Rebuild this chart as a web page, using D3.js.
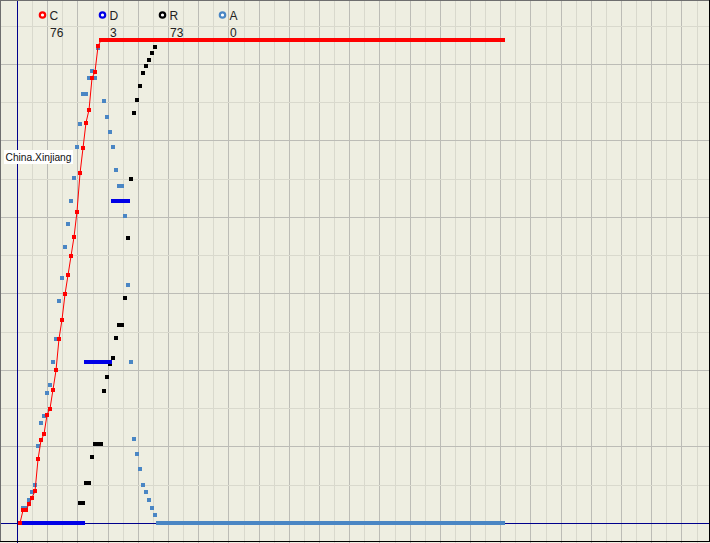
<!DOCTYPE html>
<html>
<head>
<meta charset="utf-8">
<script src="https://cdn.jsdelivr.net/npm/d3@7"></script>
<style>
  html, body { margin: 0; padding: 0; background: #fff; }
  svg { display: block; }
  text { font-family: "Liberation Sans", Arial, sans-serif; }
</style>
</head>
<body>
<div id="chart"></div>
<script>
// ---- data (one value per day, day 0 .. day 161) ----
const regionName = "China.Xinjiang";
const seriesNames = ["C", "D", "R", "A"];
const seriesColors = ["#ff0000", "#0000e6", "#000000", "#4a86c4"];

const confirmed = [
  0,2,2,3,4,5,10,13,14,17,18,21,24,29,32,36,39,42,45,49,
  55,59,63,65,70,71,75,76,76,76,76,76,76,76,76,76,76,76,76,76,
  76,76,76,76,76,76,76,76,76,76,76,76,76,76,76,76,76,76,76,76,
  76,76,76,76,76,76,76,76,76,76,76,76,76,76,76,76,76,76,76,76,
  76,76,76,76,76,76,76,76,76,76,76,76,76,76,76,76,76,76,76,76,
  76,76,76,76,76,76,76,76,76,76,76,76,76,76,76,76,76,76,76,76,
  76,76,76,76,76,76,76,76,76,76,76,76,76,76,76,76,76,76,76,76,
  76,76,76,76,76,76,76,76,76,76,76,76,76,76,76,76,76,76,76,76,
  76,76
];
const deaths = [
  0,0,0,0,0,0,0,0,0,0,0,0,0,0,0,0,0,0,0,0,
  0,0,1,1,1,1,1,1,1,1,1,2,2,2,2,2,2,3,3,3,
  3,3,3,3,3,3,3,3,3,3,3,3,3,3,3,3,3,3,3,3,
  3,3,3,3,3,3,3,3,3,3,3,3,3,3,3,3,3,3,3,3,
  3,3,3,3,3,3,3,3,3,3,3,3,3,3,3,3,3,3,3,3,
  3,3,3,3,3,3,3,3,3,3,3,3,3,3,3,3,3,3,3,3,
  3,3,3,3,3,3,3,3,3,3,3,3,3,3,3,3,3,3,3,3,
  3,3,3,3,3,3,3,3,3,3,3,3,3,3,3,3,3,3,3,3,
  3,3
];
const recovered = [
  0,0,0,0,0,0,0,0,0,0,0,0,0,0,0,0,0,0,0,0,
  3,3,6,6,10,12,12,12,20,22,24,25,28,30,30,34,43,52,62,64,
  66,68,69,70,71,72,73,73,73,73,73,73,73,73,73,73,73,73,73,73,
  73,73,73,73,73,73,73,73,73,73,73,73,73,73,73,73,73,73,73,73,
  73,73,73,73,73,73,73,73,73,73,73,73,73,73,73,73,73,73,73,73,
  73,73,73,73,73,73,73,73,73,73,73,73,73,73,73,73,73,73,73,73,
  73,73,73,73,73,73,73,73,73,73,73,73,73,73,73,73,73,73,73,73,
  73,73,73,73,73,73,73,73,73,73,73,73,73,73,73,73,73,73,73,73,
  73,73
];
const active = [
  0,2,2,3,4,5,10,13,14,17,18,21,24,29,32,36,39,42,45,49,
  52,56,56,58,59,58,62,63,55,53,51,49,46,44,44,40,31,21,11,9,
  7,5,4,3,2,1,0,0,0,0,0,0,0,0,0,0,0,0,0,0,
  0,0,0,0,0,0,0,0,0,0,0,0,0,0,0,0,0,0,0,0,
  0,0,0,0,0,0,0,0,0,0,0,0,0,0,0,0,0,0,0,0,
  0,0,0,0,0,0,0,0,0,0,0,0,0,0,0,0,0,0,0,0,
  0,0,0,0,0,0,0,0,0,0,0,0,0,0,0,0,0,0,0,0,
  0,0,0,0,0,0,0,0,0,0,0,0,0,0,0,0,0,0,0,0,
  0,0
];
const seriesValues = [confirmed, deaths, recovered, active];

// ---- layout ----
const W = 710, H = 543;
const svg = d3.select("#chart").append("svg").attr("width", W).attr("height", H);

svg.append("rect").attr("width", W).attr("height", H).attr("fill", "#eeeee1");

// background grid (not data-bound)
const gx = d3.scaleLinear().domain([0, 45]).range([17, 696.5]);
const gy = d3.scaleLinear().domain([0, 13]).range([523, 25.5]);
const grid = svg.append("g").attr("shape-rendering", "crispEdges");
d3.range(1, 46).forEach(k => {
  const xp = Math.round(gx(k)) + 0.5;
  grid.append("line").attr("x1", xp).attr("x2", xp).attr("y1", 0).attr("y2", H)
    .attr("stroke", k % 2 === 0 ? "#bcbcb6" : "#d9d9cd").attr("stroke-width", 1);
});
d3.range(1, 14).forEach(k => {
  const yp = Math.round(gy(k)) + 0.5;
  grid.append("line").attr("x1", 0).attr("x2", W).attr("y1", yp).attr("y2", yp)
    .attr("stroke", k % 2 === 0 ? "#bcbcb6" : "#d9d9cd").attr("stroke-width", 1);
});

// axes lines
svg.append("line").attr("x1", 17.5).attr("x2", 17.5).attr("y1", 0).attr("y2", H)
  .attr("stroke", "#00008c").attr("shape-rendering", "crispEdges");
svg.append("line").attr("x1", 0).attr("x2", W).attr("y1", 523.5).attr("y2", 523.5)
  .attr("stroke", "#00008c").attr("shape-rendering", "crispEdges");

// scales
const nDays = confirmed.length;
const x = d3.scaleLinear().domain([0, nDays - 1]).range([20, 503]);
const yFor = vals => d3.scaleLinear().domain([0, d3.max(vals)]).range([523, 40]);

function runs(vals) {
  const out = [];
  let s = 0;
  for (let i = 1; i <= vals.length; i++) {
    if (i === vals.length || vals[i] !== vals[s]) {
      out.push({ start: s, end: i - 1, v: vals[s] });
      s = i;
    }
  }
  return out;
}

// draw order: R, A, D, C
const order = [2, 3, 1, 0];
order.forEach(si => {
  const vals = seriesValues[si];
  const y = yFor(vals);
  const g = svg.append("g");
  if (si === 0) {
    const line = d3.line().x((d, i) => x(i)).y(d => y(d));
    g.append("path").datum(vals).attr("d", line)
      .attr("fill", "none").attr("stroke", seriesColors[si]).attr("stroke-width", 1);
  }
  g.selectAll("rect").data(runs(vals)).join("rect")
    .attr("shape-rendering", "crispEdges")
    .attr("x", d => x(d.start) - 2)
    .attr("width", d => x(d.end) - x(d.start) + 4)
    .attr("y", d => y(d.v) - 2)
    .attr("height", 4)
    .attr("fill", seriesColors[si]);
});

// legend
const legendX = [42, 102, 162, 222];
seriesNames.forEach((name, i) => {
  const vals = seriesValues[i];
  svg.append("circle").attr("cx", legendX[i] + 0.5).attr("cy", 15)
    .attr("r", 2.7).attr("fill", "#ffffff")
    .attr("stroke", seriesColors[i]).attr("stroke-width", 2.2);
  svg.append("text").attr("x", legendX[i] + 7.5).attr("y", 19.5)
    .attr("font-size", "12px").attr("fill", "#222").text(name);
  svg.append("text").attr("x", legendX[i] + 8).attr("y", 36.5)
    .attr("font-size", "12px").attr("fill", "#222").text(vals[vals.length - 1]);
});

// region label
svg.append("rect").attr("x", 4).attr("y", 150).attr("width", 69).attr("height", 14)
  .attr("fill", "#ffffff").attr("shape-rendering", "crispEdges");
svg.append("text").attr("x", 5.5).attr("y", 161).attr("font-size", "11px")
  .attr("textLength", 66).attr("lengthAdjust", "spacingAndGlyphs")
  .attr("fill", "#111").text(regionName);

// frame
svg.append("path").attr("d", `M0.5,${H - 1} V0.5 H${W - 1}`)
  .attr("fill", "none").attr("stroke", "#6e6e6e").attr("shape-rendering", "crispEdges");
svg.append("path").attr("d", `M${W - 0.5},0 V${H - 1.5} H0`)
  .attr("fill", "none").attr("stroke", "#000").attr("shape-rendering", "crispEdges");
</script>
</body>
</html>
